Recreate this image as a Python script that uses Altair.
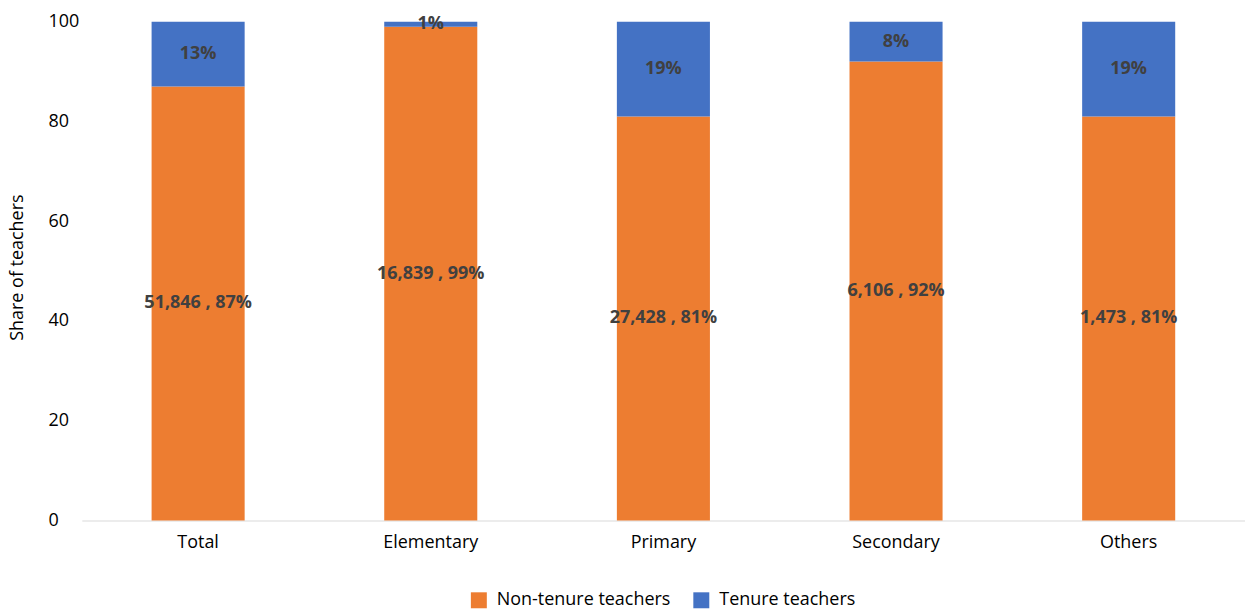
import altair as alt
import pandas as pd

# Teachers by school level: share with and without tenure
levels = ["Total", "Elementary", "Primary", "Secondary", "Others"]
non_tenure_counts = [51846, 16839, 27428, 6106, 1473]
non_tenure_pct = [87, 99, 81, 92, 81]
tenure_pct = [13, 1, 19, 8, 19]
groups = ["Non-tenure teachers", "Tenure teachers"]
colors = ["#ED7D31", "#4472C4"]

rows = []
for lvl, cnt, nt, t in zip(levels, non_tenure_counts, non_tenure_pct, tenure_pct):
    rows.append({"level": lvl, "group": groups[0], "order": 0, "share": nt,
                 "label": f"{cnt:,} , {nt}%"})
    rows.append({"level": lvl, "group": groups[1], "order": 1, "share": t,
                 "label": f"{t}%"})
df = pd.DataFrame(rows)

FONT = "Open Sans"

x_enc = alt.X(
    "level:N",
    sort=levels,
    title=None,
    scale=alt.Scale(paddingInner=0.6, paddingOuter=0.3),
    axis=alt.Axis(
        labelAngle=0, labelFontSize=18, labelFont=FONT, labelColor="#000000",
        labelPadding=13, ticks=False, domainColor="#D9D9D9", domainWidth=1.2,
    ),
)

bars = alt.Chart(df).mark_bar().encode(
    x=x_enc,
    y=alt.Y(
        "share:Q",
        stack="zero",
        scale=alt.Scale(domain=[0, 100], nice=False),
        title="Share of teachers",
        axis=alt.Axis(
            values=[0, 20, 40, 60, 80, 100], grid=False, domain=False, ticks=False,
            labelAlign="left", labelPadding=34, labelFontSize=18, labelFont=FONT,
            labelColor="#000000", titleFontSize=18, titleFont=FONT,
            titleFontWeight="normal", titleColor="#000000", titleAngle=-90,
            titleX=-64, titleY=246, titleBaseline="middle", titleAlign="center",
        ),
    ),
    color=alt.Color(
        "group:N",
        scale=alt.Scale(domain=groups, range=colors),
        legend=alt.Legend(
            title=None, orient="none", direction="horizontal",
            legendX=389, legendY=571, symbolType="square", symbolSize=256,
            symbolStrokeWidth=0, labelFontSize=18, labelFont=FONT,
            labelColor="#000000", labelOffset=9, columnPadding=21,
            labelLimit=400,
        ),
    ),
    order=alt.Order("order:Q"),
)

labels = (
    alt.Chart(df)
    .transform_stack(stack="share", as_=["y0", "y1"], groupby=["level"],
                     sort=[alt.SortField("order")])
    .transform_calculate(mid="(datum.y0 + datum.y1) / 2")
    .mark_text(font=FONT, fontSize=18, fontWeight="bold", color="#404040",
               baseline="middle", align="center")
    .encode(x=alt.X("level:N", sort=levels), y=alt.Y("mid:Q"), text="label:N")
)

chart = (
    alt.layer(bars, labels)
    .properties(
        width=1166, height=500,
        autosize=alt.AutoSizeParams(type="none"),
        padding={"left": 82, "top": 21, "right": 0, "bottom": 90},
    )
    .configure_view(stroke=None)
)

chart.save("out.html", embed_options={"renderer": "svg", "actions": False})
